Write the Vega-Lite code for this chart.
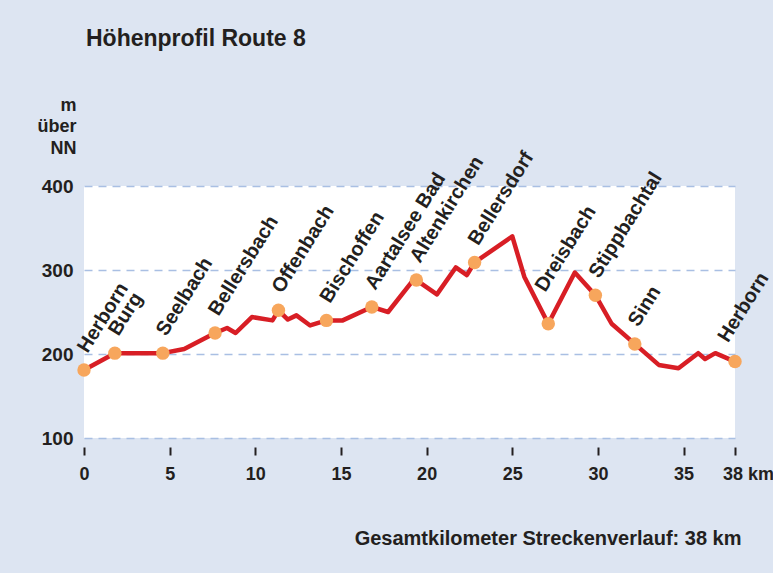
{
  "$schema": "https://vega.github.io/schema/vega-lite/v6.json",
  "width": 651,
  "height": 252,
  "autosize": {"type": "none"},
  "padding": {"left": 84, "top": 186, "right": 38, "bottom": 135},
  "background": "#dde5f2",
  "title": {"text": "Höhenprofil Route 8", "anchor": "start", "frame": "group", "font": "Liberation Sans", "fontSize": 23, "fontWeight": "bold", "color": "#231f20", "offset": 45, "dx": 2},
  "config": {"view": {"fill": "white", "stroke": null}, "font": "Liberation Sans"},
  "data": {"values": [
    {"km": 0, "elev": 181, "name": "Herborn"},
    {"km": 1.8, "elev": 201, "name": "Burg"},
    {"km": 4.6, "elev": 201, "name": "Seelbach"},
    {"km": 5.85, "elev": 206},
    {"km": 7.65, "elev": 225, "name": "Bellersbach"},
    {"km": 8.35, "elev": 231},
    {"km": 8.85, "elev": 225},
    {"km": 9.8, "elev": 244},
    {"km": 11.0, "elev": 240},
    {"km": 11.35, "elev": 252, "name": "Offenbach"},
    {"km": 11.9, "elev": 241},
    {"km": 12.4, "elev": 246},
    {"km": 13.2, "elev": 234},
    {"km": 14.15, "elev": 240, "name": "Bischoffen"},
    {"km": 15.1, "elev": 240},
    {"km": 16.8, "elev": 256, "name": "Aartalsee Bad"},
    {"km": 17.75, "elev": 250},
    {"km": 19.1, "elev": 285},
    {"km": 19.4, "elev": 288, "name": "Altenkirchen"},
    {"km": 20.6, "elev": 271},
    {"km": 21.7, "elev": 303},
    {"km": 22.35, "elev": 294},
    {"km": 22.8, "elev": 309, "name": "Bellersdorf"},
    {"km": 25.0, "elev": 340},
    {"km": 25.7, "elev": 292},
    {"km": 27.1, "elev": 236, "name": "Dreisbach"},
    {"km": 28.65, "elev": 297},
    {"km": 29.85, "elev": 270, "name": "Stippbachtal"},
    {"km": 30.8, "elev": 236},
    {"km": 32.15, "elev": 212, "name": "Sinn"},
    {"km": 33.55, "elev": 187},
    {"km": 34.7, "elev": 183},
    {"km": 35.85, "elev": 201},
    {"km": 36.25, "elev": 194},
    {"km": 36.85, "elev": 201},
    {"km": 38, "elev": 191, "name": "Herborn"}
  ]},
  "layer": [
    {
      "mark": {"type": "line", "color": "#d81e25", "strokeWidth": 4.5, "strokeJoin": "round"},
      "encoding": {
        "x": {"field": "km", "type": "quantitative", "scale": {"domain": [0, 38], "nice": false},
          "axis": {"values": [0, 5, 10, 15, 20, 25, 30, 35, 38], "labelExpr": "datum.value == 38 ? '38 km' : datum.label", "grid": false, "domain": false, "offset": 9, "tickSize": 8, "tickWidth": 2, "tickColor": "#231f20", "labelFontSize": 18, "labelFontWeight": "bold", "labelColor": "#231f20", "labelPadding": 10, "labelFlush": false, "labelOverlap": false, "labelOffset": {"condition": {"test": "datum.value == 38", "value": 13}, "value": 0},
            "title": "Gesamtkilometer Streckenverlauf: 38 km", "titleFontSize": 20, "titleFontWeight": "bold", "titleColor": "#231f20", "titleAnchor": "end", "titleAlign": "right", "titleBaseline": "alphabetic", "titleX": 657, "titleY": 97}},
        "y": {"field": "elev", "type": "quantitative", "scale": {"domain": [100, 400], "nice": false},
          "axis": {"values": [100, 200, 300, 400], "grid": true, "gridDash": [8, 6], "gridColor": "#a9bfe3", "gridWidth": 1.5, "domain": false, "ticks": false, "labelPadding": 11, "labelFontSize": 19, "labelFontWeight": "bold", "labelColor": "#231f20",
            "title": ["m", "über", "NN"], "titleAngle": 0, "titleAlign": "right", "titleBaseline": "alphabetic", "titleX": -8, "titleY": -76, "titleLineHeight": 21.5, "titleFontSize": 18, "titleFontWeight": "bold", "titleColor": "#231f20"}}
      }
    },
    {
      "transform": [{"filter": "isValid(datum.name)"}],
      "mark": {"type": "circle", "size": 180, "color": "#f7a65c", "opacity": 1},
      "encoding": {"x": {"field": "km", "type": "quantitative"}, "y": {"field": "elev", "type": "quantitative"}}
    },
    {
      "transform": [{"filter": "isValid(datum.name) && datum.name != 'Dreisbach' && datum.km < 38"}],
      "mark": {"type": "text", "angle": 302, "align": "left", "baseline": "alphabetic", "dx": 15.5, "dy": -5.5, "fontSize": 20, "fontWeight": "bold", "color": "#231f20"},
      "encoding": {"x": {"field": "km", "type": "quantitative"}, "y": {"field": "elev", "type": "quantitative"}, "text": {"field": "name"}}
    },
    {
      "transform": [{"filter": "datum.name == 'Dreisbach'"}],
      "mark": {"type": "text", "angle": 302, "align": "left", "baseline": "alphabetic", "dx": 24.5, "dy": -19, "fontSize": 20, "fontWeight": "bold", "color": "#231f20"},
      "encoding": {"x": {"field": "km", "type": "quantitative"}, "y": {"field": "elev", "type": "quantitative"}, "text": {"field": "name"}}
    },
    {
      "transform": [{"filter": "datum.name == 'Herborn' && datum.km == 38"}],
      "mark": {"type": "text", "angle": 302, "align": "left", "baseline": "alphabetic", "dx": 11.5, "dy": -15.5, "fontSize": 20, "fontWeight": "bold", "color": "#231f20"},
      "encoding": {"x": {"field": "km", "type": "quantitative"}, "y": {"field": "elev", "type": "quantitative"}, "text": {"field": "name"}}
    }
  ]
}
